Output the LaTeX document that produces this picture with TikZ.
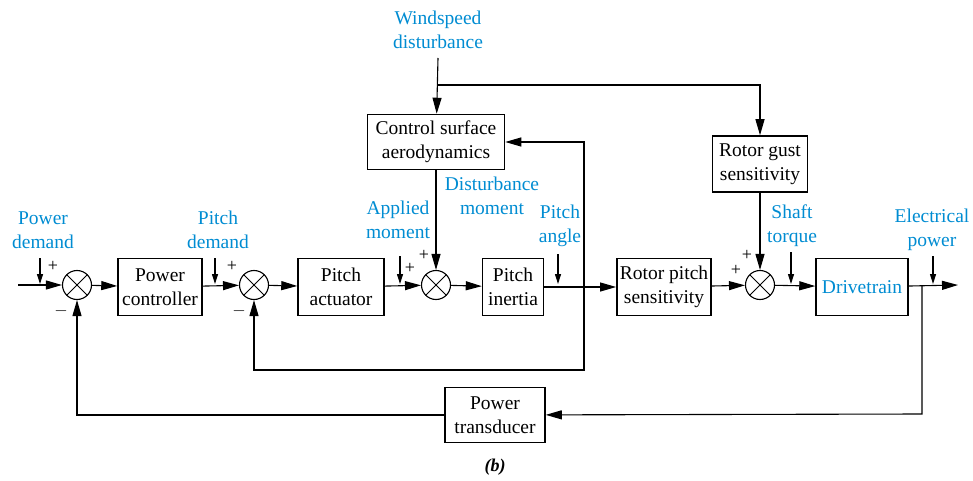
\documentclass[tikz,border=0pt]{standalone}
\usepackage{fontspec}
\setmainfont{Liberation Serif}
\usepackage{tikz}
\usetikzlibrary{arrows.meta,positioning,calc}
\definecolor{lblue}{RGB}{0,140,210}

\begin{document}
\begin{tikzpicture}[
    x=1pt, y=-1pt,
    block/.style={rectangle, draw, line width=1.5pt, align=center, inner sep=3pt, font=\fontsize{19.5}{24}\selectfont},
    sumj/.style={circle, draw, line width=1.1pt, minimum size=29pt, inner sep=0pt,
        path picture={\draw[line width=1pt] (path picture bounding box.north west) -- (path picture bounding box.south east)
            (path picture bounding box.north east) -- (path picture bounding box.south west);}},
    lbl/.style={align=center, text=lblue, font=\fontsize{19.5}{24}\selectfont},
    sgn/.style={font=\fontsize{18}{18}\selectfont, inner sep=0pt},
    arr/.style={line width=1.1pt, -{Triangle[length=16pt,width=9pt]}},
    sarr/.style={line width=1.1pt, -{Triangle[length=10pt,width=6pt]}},
    ln/.style={line width=1.1pt}
]
    \useasboundingbox (0,0) rectangle (973,481);

    % blocks
    \node[block, minimum width=84pt, minimum height=57pt] (pc) at (160,287) {Power\\controller};
    \node[block, minimum width=86pt, minimum height=57pt] (pa) at (341,287) {Pitch\\actuator};
    \node[block, minimum width=61pt, minimum height=57pt] (pi) at (513,287) {Pitch\\inertia};
    \node[block, minimum width=94pt, minimum height=57pt] (rps) at (664,287) {Rotor pitch\\sensitivity};
    \node[block, minimum width=92pt, minimum height=57pt, text=lblue] (dt) at (862,287) {Drivetrain};
    \node[block, minimum width=137pt, minimum height=55pt] (csa) at (436,142) {Control surface\\aerodynamics};
    \node[block, minimum width=95pt, minimum height=56pt] (rgs) at (760,164) {Rotor gust\\sensitivity};
    \node[block, minimum width=100pt, minimum height=55pt] (pt) at (495,415) {Power\\transducer};

    % summing junctions
    \node[sumj] (s1) at (77,285) {};
    \node[sumj] (s2) at (254,285) {};
    \node[sumj] (s3) at (436,285) {};
    \node[sumj] (s4) at (760,285) {};

    % signs
    \node[sgn] (p1) at (53,266) {+};
    \node[sgn] (m1) at (61,311) {$-$};
    \node[sgn] (p2) at (232,266) {+};
    \node[sgn] (m2) at (239,311) {$-$};
    \node[sgn] (p3a) at (410,268) {+};
    \node[sgn] (p3b) at (424,255) {+};
    \node[sgn] (p4a) at (736,270) {+};
    \node[sgn] (p4b) at (747,255) {+};

    % labels
    \node[lbl] (lpd) at (43,230) {Power\\demand};
    \node[lbl] (lpt) at (218,230) {Pitch\\demand};
    \node[lbl] (lam) at (398,220) {Applied\\moment};
    \node[lbl] (ldm) at (492,196) {Disturbance\\moment};
    \node[lbl] (lpa) at (560,226) {Pitch\\angle};
    \node[lbl] (lst) at (792,226) {Shaft\\torque};
    \node[lbl] (lep) at (932,230) {Electrical\\power};
    \node[lbl] (lws) at (438,30) {Windspeed\\disturbance};
    \node[font=\fontsize{18}{20}\selectfont\bfseries\itshape] (cap) at (495,467) {(b)};

    % coordinates
    \coordinate (in) at (18,285);
    \coordinate (out) at (958,285);
    \coordinate (ws) at (438,58);
    \coordinate (wsb) at (438,85);
    \coordinate (pab) at (584,285);
    \coordinate (fb2) at (584,370);
    \coordinate (epb) at (922,285);
    \coordinate (fb1) at (922,414);
    \coordinate (a1) at (40,258);   \coordinate (b1) at (40,284);
    \coordinate (a2) at (215,258);  \coordinate (b2) at (215,284);
    \coordinate (a3) at (400,256);  \coordinate (b3) at (400,284);
    \coordinate (a4) at (558,254);  \coordinate (b4) at (558,284);
    \coordinate (a5) at (791,252);  \coordinate (b5) at (791,284);
    \coordinate (a6) at (933,256);  \coordinate (b6) at (933,284);

    % forward path
    \draw[arr] (in) -- (s1);
    \draw[arr] (s1) -- (pc);
    \draw[arr] (pc) -- (s2);
    \draw[arr] (s2) -- (pa);
    \draw[arr] (pa) -- (s3);
    \draw[arr] (s3) -- (pi);
    \draw[arr] (pi) -- (rps);
    \draw[arr] (rps) -- (s4);
    \draw[arr] (s4) -- (dt);
    \draw[arr] (dt) -- (out);

    % disturbances
    \draw[arr] (ws) -- (csa);
    \draw[arr] (wsb) -| (rgs);
    \draw[arr] (csa) -- (s3);
    \draw[arr] (rgs) -- (s4);

    % feedback
    \draw[arr] (pab) |- (csa.east);
    \draw[arr] (pab) -- (fb2) -| (s2);
    \draw[arr] (epb) -- (fb1) -- (pt);
    \draw[arr] (pt) -| (s1);

    % label arrows
    \draw[sarr] (a1) -- (b1);
    \draw[sarr] (a2) -- (b2);
    \draw[sarr] (a3) -- (b3);
    \draw[sarr] (a4) -- (b4);
    \draw[sarr] (a5) -- (b5);
    \draw[sarr] (a6) -- (b6);
\end{tikzpicture}
\end{document}
